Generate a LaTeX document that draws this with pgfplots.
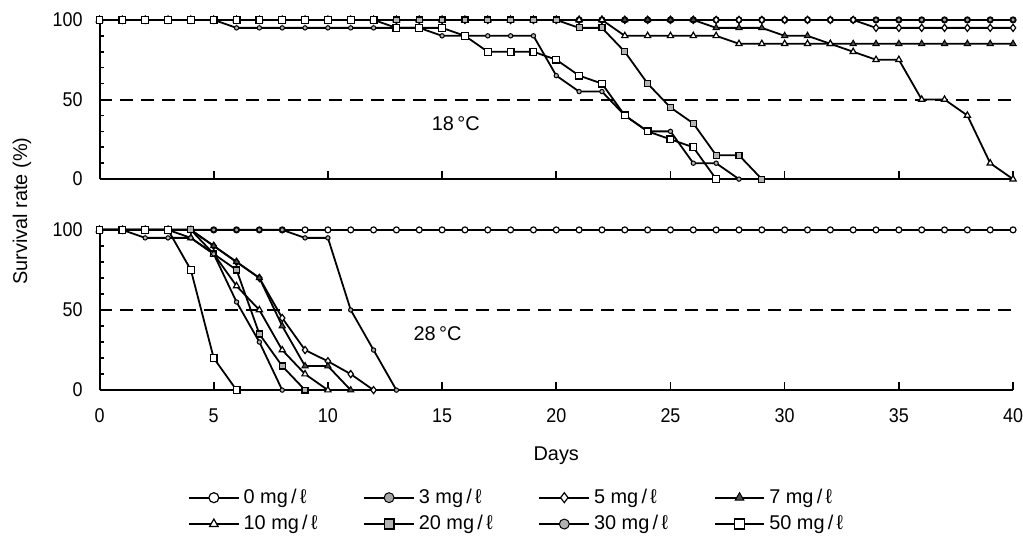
\documentclass[border=0pt]{standalone}
\usepackage{fontspec}
\setmainfont{Liberation Sans}
\newfontfamily\narrow{Liberation Sans}[FakeStretch=0.9]
\usepackage{pgfplots}
\usepackage{pgfplotstable}
\pgfplotsset{compat=1.18}

% survival (%) at 18 C
\pgfplotstableread{
day c0  c3  c5  c7  c10 c20 c30 c50
0   100 100 100 100 100 100 100 100
1   100 100 100 100 100 100 100 100
2   100 100 100 100 100 100 100 100
3   100 100 100 100 100 100 100 100
4   100 100 100 100 100 100 100 100
5   100 100 100 100 100 100 100 100
6   100 100 100 100 100 100 95  100
7   100 100 100 100 100 100 95  100
8   100 100 100 100 100 100 95  100
9   100 100 100 100 100 100 95  100
10  100 100 100 100 100 100 95  100
11  100 100 100 100 100 100 95  100
12  100 100 100 100 100 100 95  100
13  100 100 100 100 100 100 95  95
14  100 100 100 100 100 100 95  95
15  100 100 100 100 100 100 90  95
16  100 100 100 100 100 100 90  90
17  100 100 100 100 100 100 90  80
18  100 100 100 100 100 100 90  80
19  100 100 100 100 100 100 90  80
20  100 100 100 100 100 100 65  75
21  100 100 100 100 100 95  55  65
22  100 100 100 100 100 95  55  60
23  100 100 100 100 90  80  40  40
24  100 100 100 100 90  60  30  30
25  100 100 100 100 90  45  30  25
26  100 100 100 100 90  35  10  20
27  100 100 100 95  90  15  10  0
28  100 100 100 95  85  15  0   nan
29  100 100 100 95  85  0   nan nan
30  100 100 100 90  85  nan nan nan
31  100 100 100 90  85  nan nan nan
32  100 100 100 85  85  nan nan nan
33  100 100 100 85  80  nan nan nan
34  100 100 95  85  75  nan nan nan
35  100 100 95  85  75  nan nan nan
36  100 100 95  85  50  nan nan nan
37  100 100 95  85  50  nan nan nan
38  100 100 95  85  40  nan nan nan
39  100 100 95  85  10  nan nan nan
40  100 100 95  85  0   nan nan nan
}\toptab

% survival (%) at 28 C
\pgfplotstableread{
day c0  c3  c5  c7  c10 c20 c30 c50
0   100 100 100 100 100 100 100 100
1   100 100 100 100 100 100 100 100
2   100 100 100 100 100 100 95  100
3   100 100 100 100 100 100 95  100
4   100 100 100 100 95  100 95  75
5   100 100 90  90  85  85  85  20
6   100 100 80  80  65  75  55  0
7   100 100 70  70  50  35  30  nan
8   100 100 45  40  25  15  0   nan
9   100 95  25  15  10  0   nan nan
10  100 95  18  15  0   nan nan nan
11  100 50  10  0   nan nan nan nan
12  100 25  0   nan nan nan nan nan
13  100 0   nan nan nan nan nan nan
14  100 nan nan nan nan nan nan nan
15  100 nan nan nan nan nan nan nan
16  100 nan nan nan nan nan nan nan
17  100 nan nan nan nan nan nan nan
18  100 nan nan nan nan nan nan nan
19  100 nan nan nan nan nan nan nan
20  100 nan nan nan nan nan nan nan
21  100 nan nan nan nan nan nan nan
22  100 nan nan nan nan nan nan nan
23  100 nan nan nan nan nan nan nan
24  100 nan nan nan nan nan nan nan
25  100 nan nan nan nan nan nan nan
26  100 nan nan nan nan nan nan nan
27  100 nan nan nan nan nan nan nan
28  100 nan nan nan nan nan nan nan
29  100 nan nan nan nan nan nan nan
30  100 nan nan nan nan nan nan nan
31  100 nan nan nan nan nan nan nan
32  100 nan nan nan nan nan nan nan
33  100 nan nan nan nan nan nan nan
34  100 nan nan nan nan nan nan nan
35  100 nan nan nan nan nan nan nan
36  100 nan nan nan nan nan nan nan
37  100 nan nan nan nan nan nan nan
38  100 nan nan nan nan nan nan nan
39  100 nan nan nan nan nan nan nan
40  100 nan nan nan nan nan nan nan
}\bottab

\pgfplotsset{
  panel/.style={
    scale only axis, width=459pt, height=80pt,
    xmin=0, xmax=40, ymin=0, ymax=100,
    axis x line*=bottom, axis y line*=left,
    axis line style={line width=1pt},
    xtick={0,5,...,40}, ytick={0,50,100}, minor y tick num=4,
    tick align=inside, major tick length=4pt, minor tick length=2.5pt,
    every tick/.style={black, line width=0.8pt},
    tick label style={font=\narrow\fontsize{10}{12}\selectfont},
    /pgf/number format/assume math mode=true,
    yticklabel style={xshift=-5pt},
    xticklabel style={yshift=-6pt},
    clip=false,
  },
  base/.style={black, line width=0.9pt},
  s0/.style={base, mark=*, mark size=1.5pt, mark options={solid, fill=white, line width=0.6pt}},
  s3/.style={base, mark=*, mark size=1.1pt, mark options={solid, fill=gray!70, line width=0.5pt}},
  s5/.style={base, mark=diamond*, mark size=1.8pt, mark options={solid, fill=white, line width=0.6pt}},
  s7/.style={base, mark=triangle*, mark size=1.8pt, mark options={solid, fill=black!70, line width=0.5pt}},
  s10/.style={base, mark=triangle*, mark size=1.8pt, mark options={solid, fill=white, line width=0.6pt}},
  s20/.style={base, mark=square*, mark size=1.5pt, mark options={solid, fill=gray!60, line width=0.6pt}},
  s30/.style={base, mark=*, mark size=1.1pt, mark options={solid, fill=gray!60, line width=0.5pt}},
  s50/.style={base, mark=square*, mark size=1.7pt, mark options={solid, fill=white, line width=0.6pt}},
  ref50/.style={black, line width=1pt, dash pattern=on 6.5pt off 4pt, forget plot},
}

\begin{document}
\begin{tikzpicture}
\begin{axis}[panel, name=top, at={(0,0)}, anchor=north west, xticklabels={}]
\addplot[ref50] coordinates {(0,50) (40,50)};
\addplot[s0]  table[x=day, y=c0]  {\toptab};
\addplot[s3]  table[x=day, y=c3]  {\toptab};
\addplot[s5]  table[x=day, y=c5]  {\toptab};
\addplot[s7]  table[x=day, y=c7]  {\toptab};
\addplot[s10] table[x=day, y=c10] {\toptab};
\addplot[s20] table[x=day, y=c20] {\toptab};
\addplot[s30] table[x=day, y=c30] {\toptab};
\addplot[s50] table[x=day, y=c50] {\toptab};
\node[font=\fontsize{10}{12}\selectfont] at (axis cs:15.6,35) {18\,°C};
\end{axis}

\begin{axis}[panel, name=bot, at={(0,-105.5pt)}, anchor=north west,
  height=80.5pt,
  legend columns=4,
  legend style={at={(0.09,-0.565)}, anchor=north west, draw=none, fill=none,
    font=\fontsize{10}{12}\selectfont, row sep=0.5pt,
    /tikz/every even column/.append style={column sep=21pt}},
  legend cell align=left,
  legend image code/.code={\draw[mark repeat=2, mark phase=2, #1]
    plot coordinates {(0pt,0pt) (12.5pt,0pt) (25pt,0pt)};},
  legend image post style={mark size=2.5pt},
]
\addplot[ref50] coordinates {(0,50) (40,50)};
\addplot[s0]  table[x=day, y=c0]  {\bottab};
\addplot[s3]  table[x=day, y=c3]  {\bottab};
\addplot[s5]  table[x=day, y=c5]  {\bottab};
\addplot[s7]  table[x=day, y=c7]  {\bottab};
\addplot[s10] table[x=day, y=c10] {\bottab};
\addplot[s20] table[x=day, y=c20] {\bottab};
\addplot[s30] table[x=day, y=c30] {\bottab};
\addplot[s50] table[x=day, y=c50] {\bottab};
\node[font=\fontsize{10}{12}\selectfont] at (axis cs:14.8,35) {28\,°C};
\legend{0 mg\,/\,ℓ, 3 mg\,/\,ℓ, 5 mg\,/\,ℓ, 7 mg\,/\,ℓ, 10 mg\,/\,ℓ, 20 mg\,/\,ℓ, 30 mg\,/\,ℓ, 50 mg\,/\,ℓ}
\end{axis}

\node[rotate=90, font=\fontsize{10}{12}\selectfont] at (-39pt,-96pt) {Survival\ rate\ (\%)};
\node[font=\fontsize{10}{12}\selectfont] at (229.5pt,-219pt) {Days};

\pgfresetboundingbox
\path (-50pt,10pt) rectangle (464pt,-260.5pt);
\end{tikzpicture}
\end{document}
